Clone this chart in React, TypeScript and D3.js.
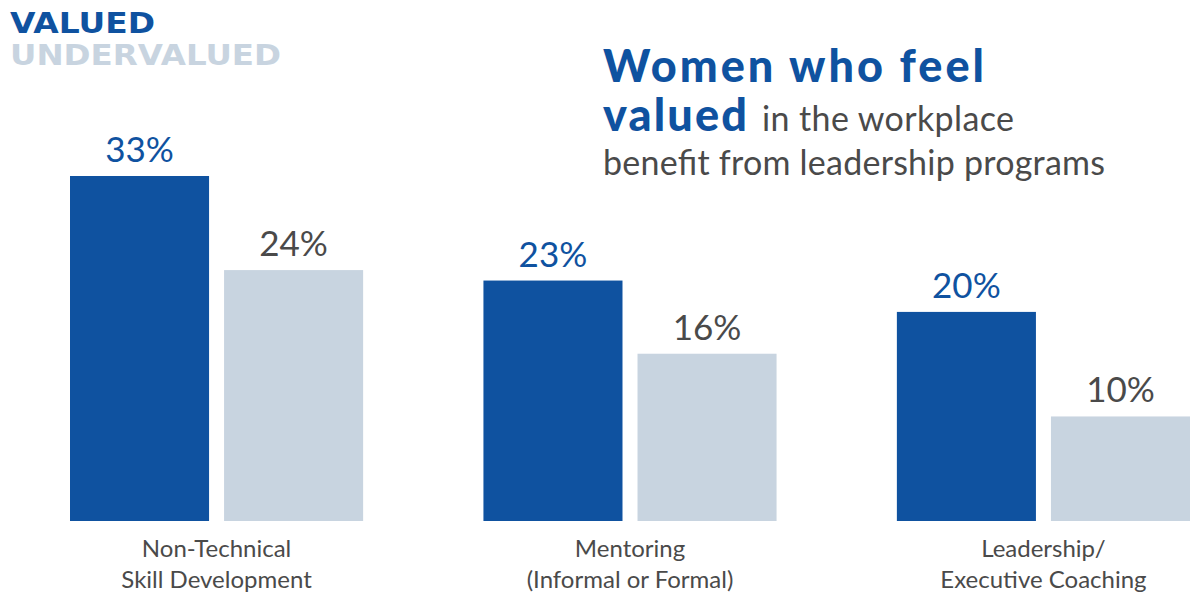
import React, { useEffect, useRef } from "react";
import * as d3 from "d3";

const categories = ["Non-Technical Skill Development", "Mentoring (Informal or Formal)", "Leadership/ Executive Coaching"];
const categoryLines = [
  ["Non-Technical", "Skill Development"],
  ["Mentoring", "(Informal or Formal)"],
  ["Leadership/", "Executive Coaching"],
];
const valued = [33, 23, 20];
const undervalued = [24, 16, 10];
const seriesNames = ["VALUED", "UNDERVALUED"];

const BLUE = "#0f52a0";
const LIGHT = "#c8d4e0";
const GRAY = "#4a4a4a";
const FONT = "Lato, 'Open Sans', sans-serif";

export default function App() {
  const ref = useRef<SVGSVGElement>(null);

  useEffect(() => {
    const svg = d3.select(ref.current);
    svg.selectAll("*").remove();

    const baseY = 521;
    const x0 = d3.scaleBand().domain(categories).range([70, 1190]).paddingInner(0.291).paddingOuter(0);
    const x1 = d3.scaleBand().domain(seriesNames).range([0, x0.bandwidth()]).paddingInner(0.0974);
    const y = d3.scaleLinear().domain([0, 33]).range([baseY, 176]);

    const rows = categories.map((c, i) => ({ cat: c, vals: [valued[i], undervalued[i]] }));

    const g = svg.selectAll(".grp").data(rows).join("g")
      .attr("class", "grp")
      .attr("transform", d => `translate(${x0(d.cat)},0)`);

    g.selectAll("rect")
      .data(d => d.vals.map((v, j) => ({ key: seriesNames[j], v })))
      .join("rect")
      .attr("x", d => x1(d.key)!)
      .attr("y", d => y(d.v))
      .attr("width", x1.bandwidth())
      .attr("height", d => baseY - y(d.v))
      .attr("fill", d => (d.key === "VALUED" ? BLUE : LIGHT));

    g.selectAll(".val")
      .data(d => d.vals.map((v, j) => ({ key: seriesNames[j], v })))
      .join("text")
      .attr("class", "val")
      .attr("x", d => x1(d.key)! + x1.bandwidth() / 2)
      .attr("y", d => y(d.v) - 14)
      .attr("text-anchor", "middle")
      .style("font-family", FONT)
      .style("font-size", "35px")
      .attr("fill", d => (d.key === "VALUED" ? BLUE : GRAY))
      .text(d => d.v + "%");

    g.each(function (d, i) {
      const sel = d3.select(this);
      categoryLines[i].forEach((line, k) => {
        sel.append("text")
          .attr("x", x0.bandwidth() / 2)
          .attr("y", 557 + k * 31)
          .attr("text-anchor", "middle")
          .style("font-family", FONT)
          .style("font-size", "24px")
          .attr("fill", GRAY)
          .text(line);
      });
    });

    // legend
    svg.append("text")
      .attr("x", 10).attr("y", 33)
      .attr("textLength", 145).attr("lengthAdjust", "spacingAndGlyphs")
      .style("font-family", "'DejaVu Sans', sans-serif")
      .style("font-weight", "bold")
      .style("font-size", "29px")
      .attr("fill", BLUE)
      .text(seriesNames[0]);
    svg.append("text")
      .attr("x", 10).attr("y", 65)
      .attr("textLength", 271).attr("lengthAdjust", "spacingAndGlyphs")
      .style("font-family", "'DejaVu Sans', sans-serif")
      .style("font-weight", "bold")
      .style("font-size", "29px")
      .attr("fill", LIGHT)
      .text(seriesNames[1]);

    // title
    svg.append("text")
      .attr("x", 603).attr("y", 82)
      .attr("textLength", 381).attr("lengthAdjust", "spacing")
      .style("font-family", FONT)
      .style("font-weight", "900")
      .style("font-size", "45px")
      .attr("fill", BLUE)
      .text("Women who feel");
    svg.append("text")
      .attr("x", 603).attr("y", 131)
      .attr("textLength", 144).attr("lengthAdjust", "spacing")
      .style("font-family", FONT)
      .style("font-weight", "900")
      .style("font-size", "45px")
      .attr("fill", BLUE)
      .text("valued");
    svg.append("text")
      .attr("x", 762).attr("y", 131)
      .attr("textLength", 252).attr("lengthAdjust", "spacing")
      .style("font-family", FONT)
      .style("font-size", "34px")
      .attr("fill", GRAY)
      .text("in the workplace");
    svg.append("text")
      .attr("x", 603).attr("y", 175)
      .attr("textLength", 502).attr("lengthAdjust", "spacing")
      .style("font-family", FONT)
      .style("font-size", "34px")
      .attr("fill", GRAY)
      .text("benefit from leadership programs");
  }, []);

  return <svg ref={ref} width={1193} height={597} style={{ position: "absolute", left: 0, top: 0 }} />;
}
